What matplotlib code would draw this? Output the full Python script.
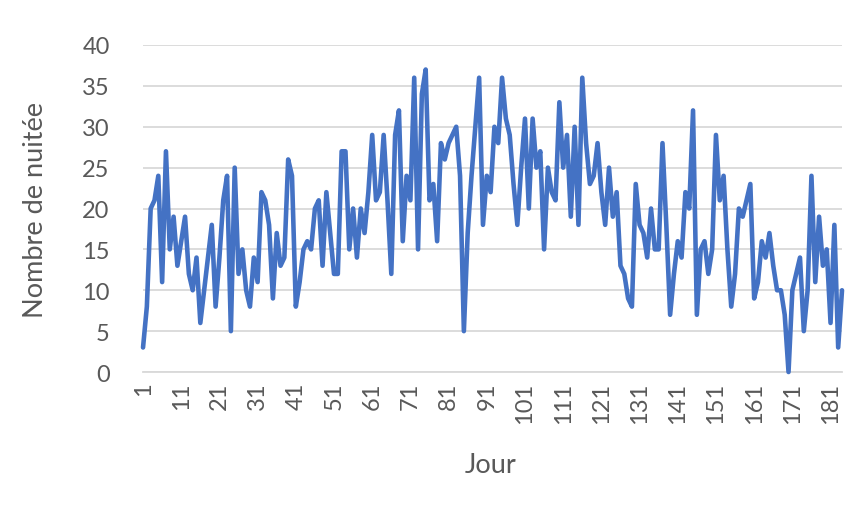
import numpy as np
import matplotlib.pyplot as plt

# nuitées par jour
jours = np.arange(1, 185)
nuitees = [3, 8, 20, 21, 24, 11, 27, 15, 19, 13, 16, 19, 12, 10, 14, 6, 10, 14, 18, 8, 14, 21, 24, 5,
           25, 12, 15, 10, 8, 14, 11, 22, 21, 18, 9, 17, 13, 14, 26, 24, 8, 11, 15, 16, 15, 20, 21,
           13, 22, 17, 12, 12, 27, 27, 15, 20, 14, 20, 17, 22, 29, 21, 22, 29, 21, 12, 29, 32, 16, 24,
           21, 36, 15, 34, 37, 21, 23, 16, 28, 26, 28, 29, 30, 24, 5, 17, 24, 30, 36, 18, 24, 22, 30, 28,
           36, 31, 29, 23, 18, 25, 31, 20, 31, 25, 27, 15, 25, 22, 21, 33, 25, 29, 19, 30, 18, 36, 28,
           23, 24, 28, 22, 18, 25, 19, 22, 13, 12, 9, 8, 23, 18, 17, 14, 20, 15, 15, 28, 18, 7, 12,
           16, 14, 22, 20, 32, 7, 15, 16, 12, 15, 29, 21, 24, 15, 8, 12, 20, 19, 21, 23, 9, 11, 16, 14,
           17, 13, 10, 10, 7, 0, 10, 12, 14, 5, 10, 24, 11, 19, 13, 15, 6, 18, 3, 10]
xticks = np.arange(1, 185, 10)
yticks = np.arange(0, 41, 5)

gris = '#595959'
plt.rcParams['font.family'] = ['Lato', 'DejaVu Sans']

fig = plt.figure(figsize=(8.57, 5.06), dpi=100)
ax = fig.add_axes([0.1669, 0.2628, 0.8156, 0.6463])

ax.plot(jours, nuitees, color='#4472C4', lw=3.3, solid_joinstyle='round',
        solid_capstyle='round', zorder=3, clip_on=False)

ax.set_xlim(1, 184)
ax.set_ylim(0, 40)
ax.set_yticks(yticks)
ax.set_xticks(xticks)
ax.set_xticklabels([str(t) for t in xticks], rotation=90)
ax.grid(axis='y', color='#d9d9d9', lw=1.3)
ax.tick_params(length=0, labelsize=17, labelcolor=gris)
ax.tick_params(axis='y', pad=24)
ax.tick_params(axis='x', pad=7)
for s in ['top', 'right', 'left']:
    ax.spines[s].set_visible(False)
ax.spines['bottom'].set_color('#d9d9d9')
ax.spines['bottom'].set_linewidth(1.3)

fig.text(0.042, 0.585, 'Nombre de nuitée', rotation=90, ha='center', va='center',
         fontsize=19.5, color=gris)
fig.text(0.572, 0.081, 'Jour', ha='center', va='center', fontsize=19.5, color=gris)

fig.savefig('out.png', dpi=100)
